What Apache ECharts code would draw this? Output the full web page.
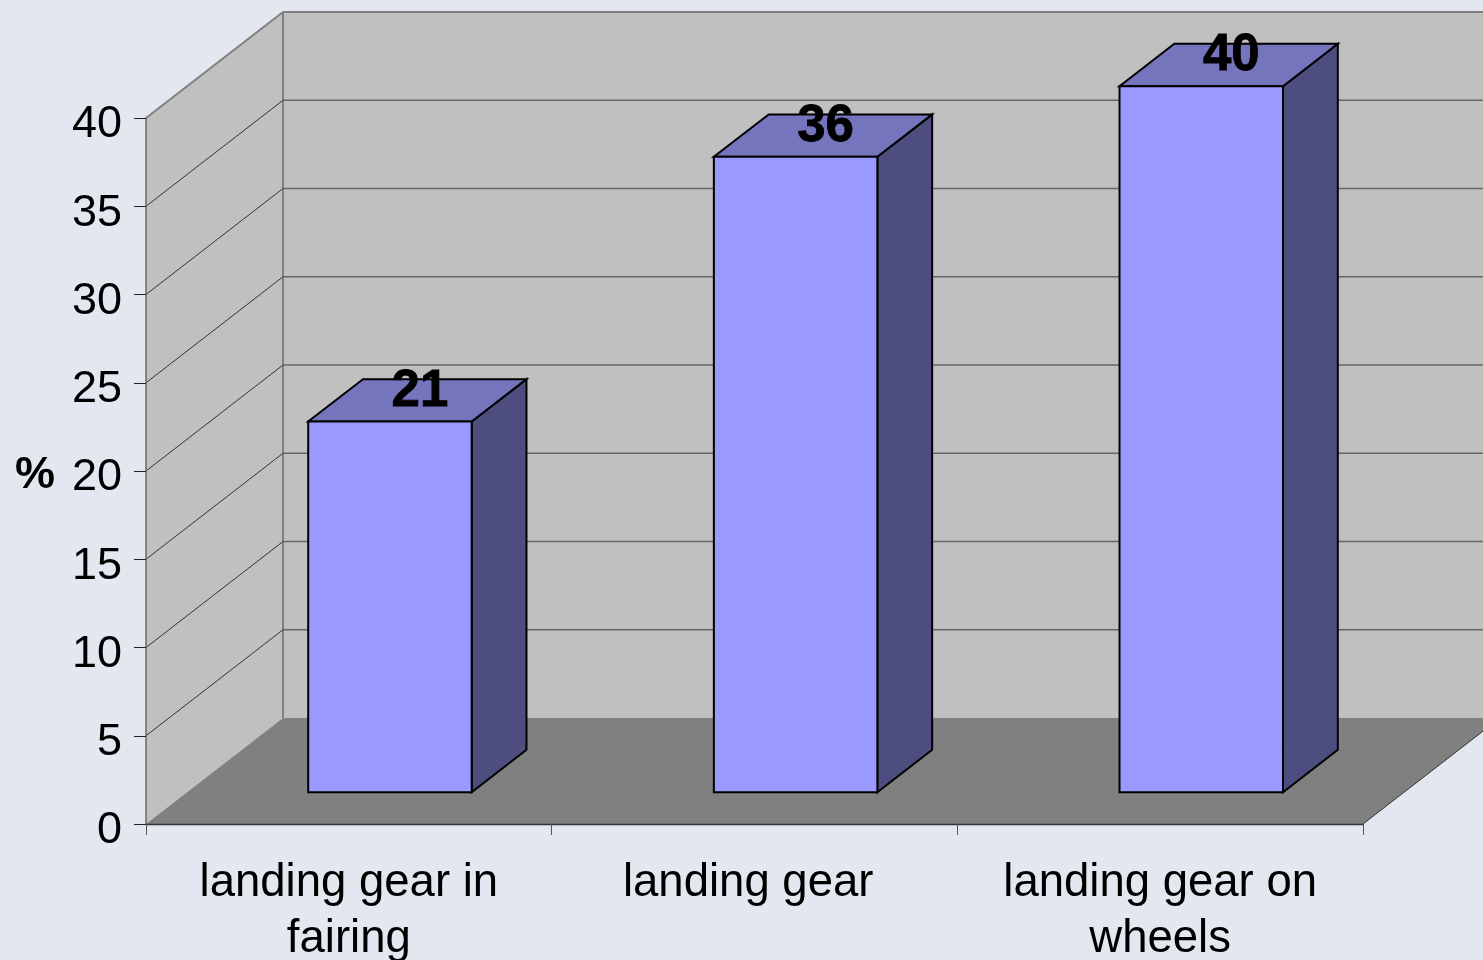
<!DOCTYPE html>
<html>
<head>
<meta charset="utf-8">
<style>html,body{margin:0;padding:0;background:#e3e8f0;overflow:hidden}#chart{width:1483px;height:960px}</style>
<script src="https://cdn.jsdelivr.net/npm/echarts@6/dist/echarts.min.js"></script>
</head>
<body>
<div id="chart"></div>
<script>
// Share of landing-gear drag, by configuration
const categories = ['landing gear in\nfairing', 'landing gear ', 'landing gear on\nwheels'];
const percentValues = [21, 36, 40];
const valueTicks = [5, 10, 15, 20, 25, 30, 35, 40];

// Oblique projection of the chart box
const DEPTH_X = 137, DEPTH_Y = -106;
const BAR_START = 0.3, BAR_DEPTH = 0.4, BAR_WIDTH = 0.403;
const AXIS_MAX = 40;
const FONT = '"Liberation Sans", Arial, sans-serif';

const poly = (points, fill, stroke, lineWidth) => ({
  type: 'polygon',
  shape: { points },
  style: { fill, stroke: stroke || null, lineWidth: lineWidth || 0, lineJoin: 'miter' }
});
const line = (a, b, stroke, lineWidth) => ({
  type: 'line',
  shape: { x1: a[0], y1: a[1], x2: b[0], y2: b[1] },
  style: { stroke, lineWidth }
});
const shift = (p, f) => [p[0] + DEPTH_X * f, p[1] + DEPTH_Y * f];

function boxEdges(api) {
  const band = api.size([1, 0])[0];
  const left = api.coord([0, 0])[0] - band / 2;
  const right = left + band * categories.length;
  return { left, right, base: api.coord([0, 0])[1], top: api.coord([0, AXIS_MAX])[1] };
}

function renderWalls(params, api) {
  const { left, right, base, top } = boxEdges(api);
  const bl = [left, base], tl = [left, top], br = [right, base], tr = [right, top];
  return {
    type: 'group',
    children: [
      poly([bl, tl, shift(tl, 1), shift(bl, 1)], '#c0c0c0'),
      poly([shift(bl, 1), shift(tl, 1), shift(tr, 1), shift(br, 1)], '#c0c0c0'),
      poly([bl, br, shift(br, 1), shift(bl, 1)], '#808080'),
      line(tl, shift(tl, 1), '#808080', 2),
      line(shift(tl, 1), shift(tr, 1), '#808080', 2),
      line(shift(tl, 1), shift(bl, 1), '#808080', 2),
      line(br, shift(br, 1), '#333333', 1)
    ]
  };
}

// The top tick coincides with the wall edges, so it draws no gridline of its own
function renderGridLine(params, api) {
  const { left, right } = boxEdges(api);
  const value = api.value(1);
  if (value === AXIS_MAX) {
    return { type: 'group', children: [] };
  }
  const y = api.coord([0, value])[1];
  const a = [left, y], b = [right, y];
  return {
    type: 'group',
    children: [
      line(a, shift(a, 1), '#222222', 0.9),
      line(shift(a, 1), shift(b, 1), '#666666', 1.4)
    ]
  };
}

function renderBar(params, api) {
  const index = api.value(0);
  const value = api.value(1);
  const band = api.size([1, 0])[0];
  const center = api.coord([index, 0])[0];
  const halfW = band * BAR_WIDTH / 2;
  const base = api.coord([index, 0])[1];
  const top = api.coord([index, value])[1];
  const fbl = shift([center - halfW, base], BAR_START);
  const fbr = shift([center + halfW, base], BAR_START);
  const ftl = shift([center - halfW, top], BAR_START);
  const ftr = shift([center + halfW, top], BAR_START);
  return {
    type: 'group',
    children: [
      poly([fbr, ftr, shift(ftr, BAR_DEPTH), shift(fbr, BAR_DEPTH)], '#4d4d80', '#000', 2),
      poly([ftl, ftr, shift(ftr, BAR_DEPTH), shift(ftl, BAR_DEPTH)], '#7575bd', '#000', 2),
      poly([fbl, ftl, ftr, fbr], '#9999ff', '#000', 2),
      {
        type: 'text',
        style: {
          x: (ftl[0] + ftr[0]) / 2 + 30,
          y: ftl[1] - 30,
          text: String(value),
          fill: '#000',
          stroke: '#000',
          lineWidth: 0.8,
          font: 'bold 51px ' + FONT,
          align: 'center',
          verticalAlign: 'middle'
        }
      }
    ]
  };
}

const chart = echarts.init(document.getElementById('chart'), null, { renderer: 'canvas' });
chart.setOption({
  animation: false,
  backgroundColor: '#e3e8f0',
  grid: { left: 146, top: 118, width: 1217, height: 706, containLabel: false, outerBoundsMode: 'none' },
  xAxis: {
    type: 'category',
    data: categories,
    z: 1,
    axisLine: { lineStyle: { color: '#333333', width: 1.3 } },
    axisTick: { show: true, length: 11, lineStyle: { color: '#555555', width: 1 } },
    axisLabel: {
      interval: 0, color: '#000', fontFamily: FONT, fontSize: 45.5,
      lineHeight: 56, margin: 31, hideOverlap: false
    }
  },
  yAxis: {
    type: 'value',
    min: 0, max: AXIS_MAX, interval: 5,
    z: 1,
    name: '%',
    nameLocation: 'middle',
    nameRotate: 0,
    nameGap: 91,
    nameTextStyle: {
      color: '#000', fontFamily: FONT, fontSize: 45, fontWeight: 'bold',
      verticalAlign: 'top', lineHeight: 10
    },
    splitLine: { show: false },
    axisLine: { show: true, lineStyle: { color: '#6e6e6e', width: 1.6 } },
    axisTick: { show: true, length: 12, lineStyle: { color: '#222222', width: 1 } },
    axisLabel: {
      color: '#000', fontFamily: FONT, fontSize: 45, margin: 24,
      verticalAlign: 'top', lineHeight: 14
    }
  },
  series: [
    { type: 'custom', z: 0, silent: true, renderItem: renderWalls, data: [[0, 0]], encode: { x: 0, y: 1 } },
    { type: 'custom', z: 0, silent: true, renderItem: renderGridLine, data: valueTicks.map(t => [0, t]), encode: { x: 0, y: 1 } },
    { type: 'custom', z: 2, silent: true, renderItem: renderBar, data: percentValues.map((v, i) => [i, v]), encode: { x: 0, y: 1 } }
  ]
});
</script>
</body>
</html>
